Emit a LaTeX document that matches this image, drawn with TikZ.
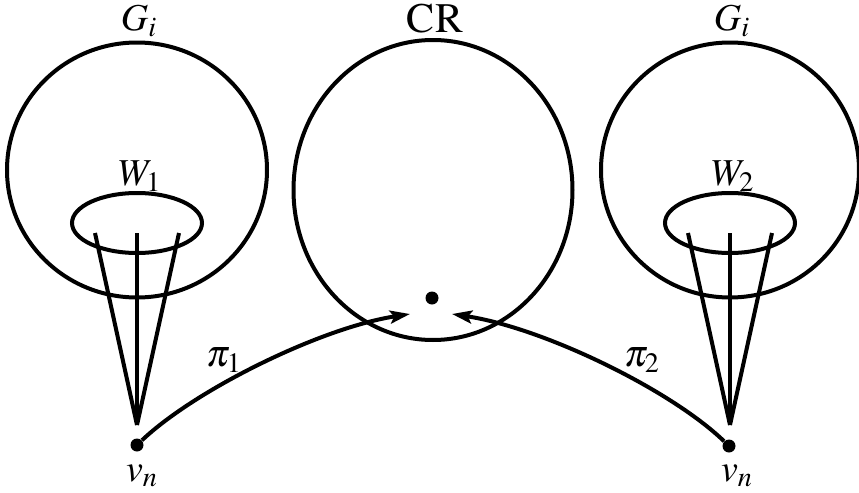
\documentclass[tikz,border=0pt]{standalone}
\usepackage{mathptmx}
\usetikzlibrary{%
	calc,%
	arrows.meta,%
	shapes.geometric,%
	positioning,%
}
\tikzset{
	>={Stealth[length=10pt,width=6.5pt,inset=2pt]},%
	region/.style={%
			draw,%
			ellipse,%
			line width=2pt,%
			inner sep=0pt},%
	window/.style={%
			draw,%
			ellipse,%
			line width=2pt,%
			inner sep=0pt,%
			minimum width=65pt,%
			minimum height=30pt},%
	vertex/.style={%
			circle,%
			fill,%
			inner sep=0pt,%
			minimum size=6.5pt},%
	lbl/.style={%
			font={\fontsize{19}{22}\selectfont},%
			inner sep=0pt},%
	route/.style={%
			line width=2pt},%
}

\begin{document}
\begin{tikzpicture}[x=0.5pt, y=-0.5pt]%
	\useasboundingbox (0,0) rectangle (859,493);

	\node[region, minimum width=130pt, minimum height=127.5pt] (gl) at (137,170) {};
	\node[region, minimum width=139.5pt, minimum height=150pt] (cr) at (433,190) {};
	\node[region, minimum width=129pt, minimum height=127.5pt] (gr) at (730,170) {};

	\node[lbl] (gl-lbl) at (139,21) {$G_i$};
	\node[lbl, font={\fontsize{21}{24}\selectfont}] (cr-lbl) at (435,19) {$\mathrm{CR}$};
	\node[lbl] (gr-lbl) at (732,21) {$G_i$};

	\node[window] (wl) at (137,223) {};
	\node[window] (wr) at (730,223) {};
	\node[lbl] (wl-lbl) at (140,176) {$W_1$};
	\node[lbl] (wr-lbl) at (733,176) {$W_2$};

	\node[vertex] (vl) at (137,445) {};
	\node[vertex] (vr) at (729,446) {};
	\node[vertex] (c) at (432,298) {};
	\node[lbl] (vl-lbl) at (142,476) {$v_n$};
	\node[lbl] (vr-lbl) at (737,476) {$v_n$};

	\coordinate (al) at (137,425);
	\coordinate (ar) at (730,425);
	\foreach \dx in {-42,0,42} {
			\draw[route] (al) -- ($(wl.center)+(\dx,10)$);
			\draw[route] (ar) -- ($(wr.center)+(\dx,10)$);
		}

	\coordinate (tl) at (410,314);
	\coordinate (tr) at (452,314);
	\draw[route, ->] (vl) .. controls (195,390) and (320,328) .. (tl);
	\draw[route, ->] (vr) .. controls (671,390) and (544,328) .. (tr);
	\node[lbl] (pl-lbl) at (224,360) {$\pi_1$};
	\node[lbl] (pr-lbl) at (642,360) {$\pi_2$};
\end{tikzpicture}
\end{document}
